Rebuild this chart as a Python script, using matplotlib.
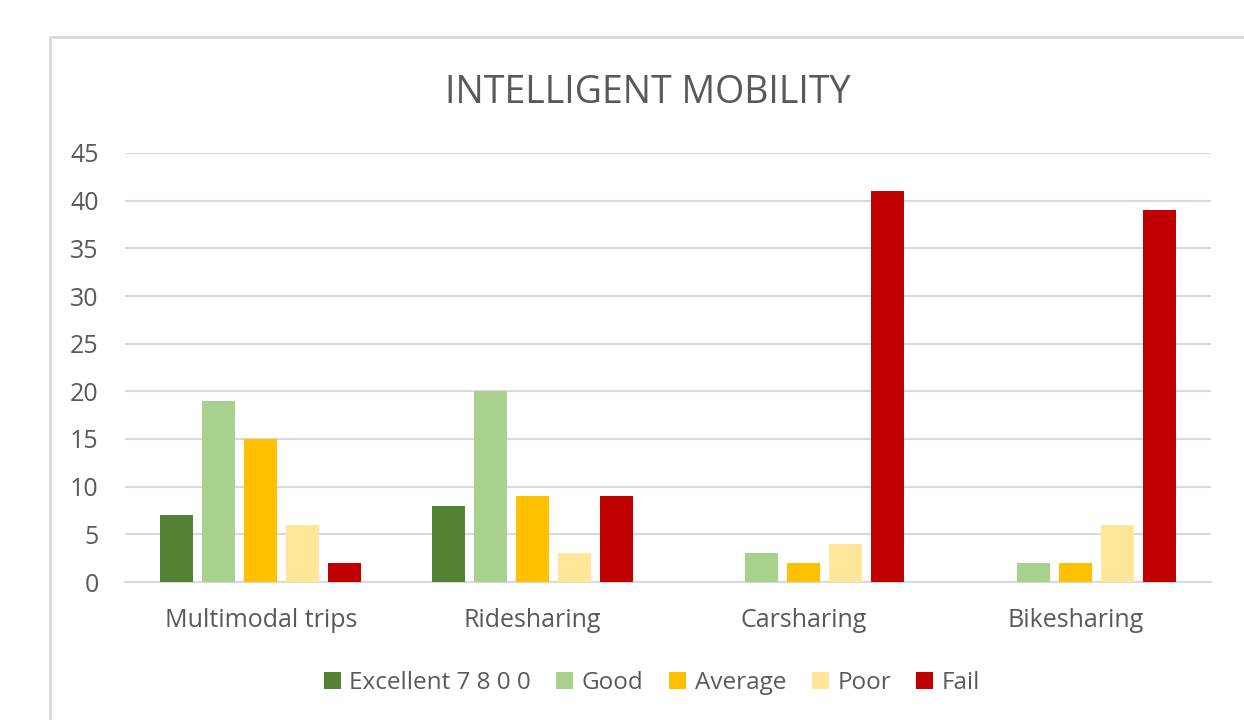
import matplotlib.pyplot as plt
import numpy as np
from matplotlib.patches import Rectangle

plt.rcParams['font.family'] = ['Open Sans', 'DejaVu Sans']

categories = ['Multimodal trips', 'Ridesharing', 'Carsharing', 'Bikesharing']
series_names = ['Excellent 7 8 0 0', 'Good', 'Average', 'Poor', 'Fail']
excellent = [7, 8, 0, 0]
good = [19, 20, 3, 2]
average = [15, 9, 2, 2]
poor = [6, 3, 4, 6]
fail = [2, 9, 41, 39]
colors = ['#548235', '#a9d18e', '#ffc000', '#ffe699', '#c00000']

values = [excellent, good, average, poor, fail]
txt = '#595959'

fig = plt.figure(figsize=(12.44, 7.2), dpi=100)
ax = fig.add_axes([125/1244, 1-582/720, (1211-125)/1244, (582-153)/720])

# chart border, runs off the right and bottom edge
fig.patches.append(Rectangle((50/1244, -0.05), 1.1, 1-37/720+0.05, transform=fig.transFigure,
                             fill=False, edgecolor='#d9d9d9', linewidth=2))

x = np.arange(len(categories))
step = 0.1547
width = 0.1215
for i, (name, vals) in enumerate(zip(series_names, values)):
    ax.bar(x + (i - 2) * step, vals, width, color=colors[i], label=name, zorder=3)

ax.set_xlim(-0.5, 3.5)
ax.set_ylim(0, 45)
ax.set_yticks(range(0, 50, 5))
ax.grid(axis='y', color='#d9d9d9', linewidth=1.5, zorder=0)
for s in ['top', 'right', 'left']:
    ax.spines[s].set_visible(False)
ax.spines['bottom'].set_color('#d9d9d9')
ax.spines['bottom'].set_linewidth(1.5)
ax.set_xticks(x)
ax.set_xticklabels(categories)
ax.tick_params(axis='both', length=0, labelsize=18, colors=txt)
ax.tick_params(axis='x', pad=19)
ax.tick_params(axis='y', pad=19)

fig.text(648/1244, 1-93/720, 'INTELLIGENT MOBILITY', ha='center', va='center', fontsize=27, color=txt)

leg = fig.legend(loc='center', bbox_to_anchor=(652/1244, 1-683/720), ncol=5, frameon=False,
                 fontsize=17.5, handlelength=0.7, handleheight=0.7, handletextpad=0.35, columnspacing=1.05)
for t in leg.get_texts():
    t.set_color(txt)

fig.savefig('out.png', dpi=100)
